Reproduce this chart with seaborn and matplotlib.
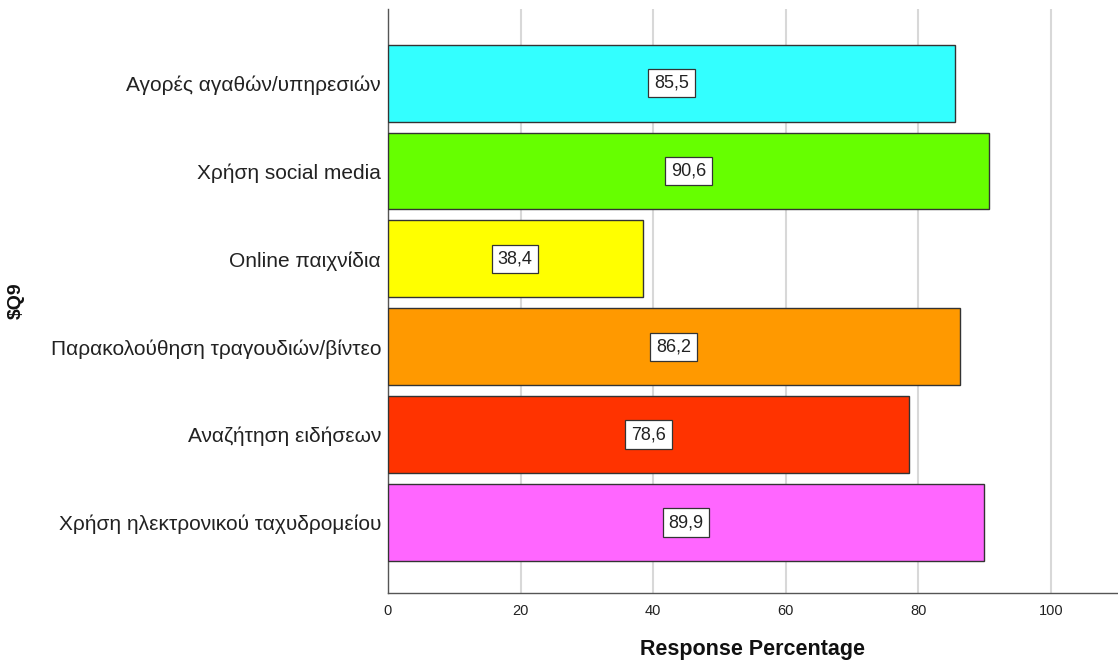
import matplotlib
matplotlib.use("Agg")
import matplotlib.pyplot as plt
import seaborn as sns
import pandas as pd

categories = [
    "Αγορές αγαθών/υπηρεσιών",
    "Χρήση social media",
    "Online παιχνίδια",
    "Παρακολούθηση τραγουδιών/βίντεο",
    "Αναζήτηση ειδήσεων",
    "Χρήση ηλεκτρονικού ταχυδρομείου",
]
percentages = [85.5, 90.6, 38.4, 86.2, 78.6, 89.9]
bar_colors = ["#33FFFF", "#66FF00", "#FFFF00", "#FF9900", "#FF3300", "#FF66FF"]
x_ticks = [0, 20, 40, 60, 80, 100]

sns.set_theme(style="white")
plt.rcParams["font.family"] = ["Liberation Sans", "DejaVu Sans"]

df = pd.DataFrame({"cat": categories, "pct": percentages})

fig = plt.figure(figsize=(11.18, 6.61), dpi=100)
ax = fig.add_axes([0.347, 0.103, 0.653, 0.883])

sns.barplot(data=df, y="cat", x="pct", hue="cat", palette=bar_colors,
            order=categories, hue_order=categories, legend=False, saturation=1,
            width=0.875, edgecolor="#333333", linewidth=1.0, ax=ax, zorder=3)

for i, v in enumerate(percentages):
    ax.text(v / 2, i, f"{v:.1f}".replace(".", ","), ha="center", va="center",
            fontsize=13, color="#222222", zorder=5,
            bbox=dict(boxstyle="square,pad=0.32", facecolor="white",
                      edgecolor="#333333", linewidth=0.9))

ax.set_xlim(0, 110.1)
ax.set_ylim(5.8, -0.84)
ax.set_xticks(x_ticks)
ax.set_xticklabels([str(t) for t in x_ticks], fontsize=10.5)
ax.tick_params(axis="x", length=0, pad=8)
ax.tick_params(axis="y", length=0, pad=5, labelsize=15)
for lbl in ax.get_yticklabels() + ax.get_xticklabels():
    lbl.set_color("#222222")

ax.grid(axis="x", color="#d8d8d8", linewidth=1.5, zorder=0)
ax.set_axisbelow(True)
for side in ("top", "right"):
    ax.spines[side].set_visible(False)
for side in ("left", "bottom"):
    ax.spines[side].set_color("#555555")
    ax.spines[side].set_linewidth(1.0)

ax.set_xlabel("Response Percentage", fontsize=15.5, fontweight="bold",
              labelpad=15, color="#111111")
ax.set_ylabel(r"\$Q9", fontsize=14, fontweight="bold", color="#111111")
ax.yaxis.set_label_coords(-0.497, 0.5)

fig.savefig("out.png", dpi=100, facecolor="white")
